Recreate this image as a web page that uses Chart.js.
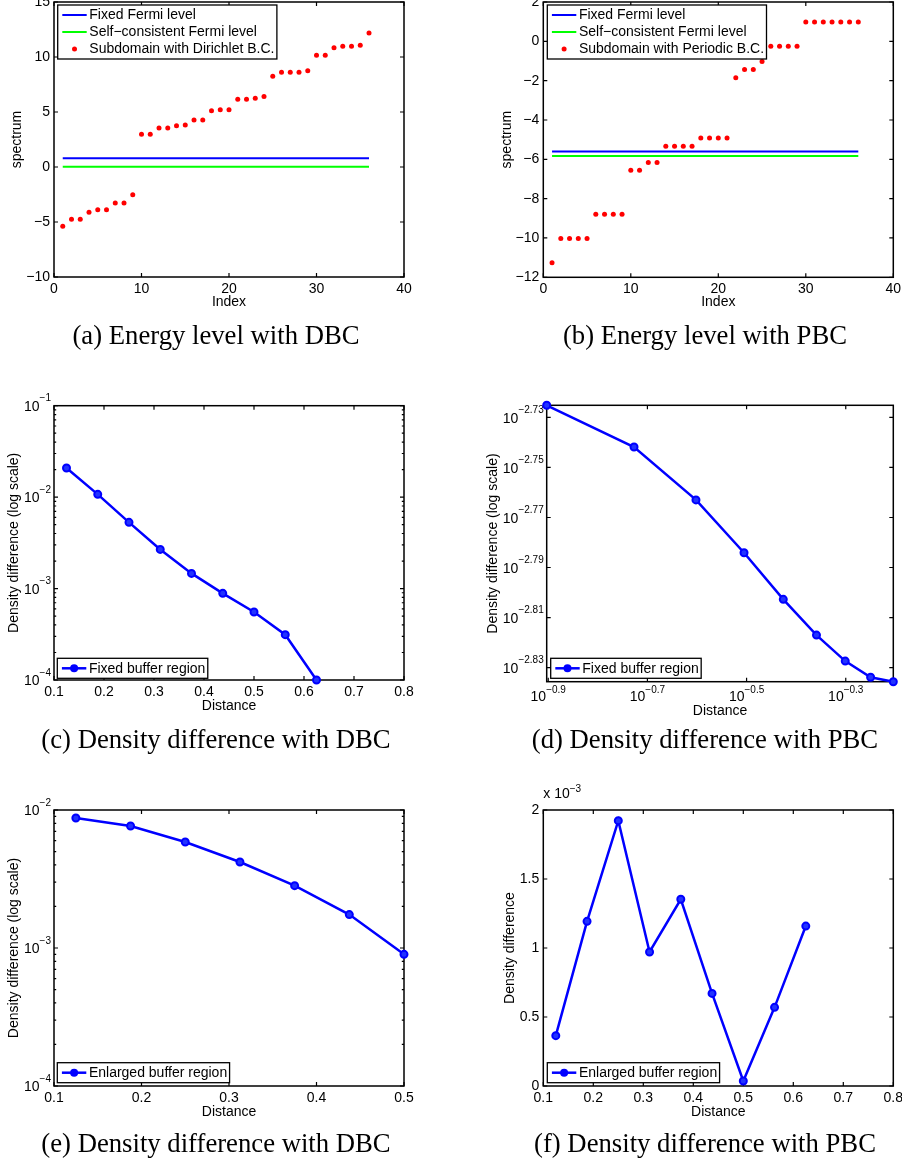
<html>
<head>
<meta charset="utf-8">
<title>Energy levels and density difference</title>
<style>
html, body { margin: 0; padding: 0; background: #fff; overflow: hidden; }
#page { position: relative; width: 902px; height: 1164px; overflow: hidden; }
.panel { position: absolute; }
.cap {
	position: absolute; width: 452px; text-align: center;
	font-family: "Liberation Serif", "Times New Roman", serif;
	font-size: 26.7px; line-height: 32px; color: #000; white-space: nowrap;
}
</style>
<script src="https://cdn.jsdelivr.net/npm/chart.js"></script>
<script>
// ---- data ----
const indexVals = [1,2,3,4,5,6,7,8,9,10,11,12,13,14,15,16,17,18,19,20,21,22,23,24,25,26,27,28,29,30,31,32,33,34,35,36];
const spectrumDBC = [-5.39,-4.76,-4.76,-4.12,-3.88,-3.88,-3.27,-3.27,-2.52,2.97,2.97,3.55,3.55,3.76,3.82,4.27,4.27,5.12,5.21,5.21,
	6.15,6.15,6.24,6.42,8.24,8.61,8.61,8.61,8.76,10.15,10.15,10.85,10.97,10.97,11.06,12.18];
const spectrumPBC = [-11.26,-10.03,-10.03,-10.03,-10.03,-8.8,-8.8,-8.8,-8.8,-6.56,-6.56,-6.16,-6.16,-5.33,-5.33,-5.33,-5.33,
	-4.91,-4.91,-4.91,-4.91,-1.85,-1.43,-1.43,-1.03,-0.25,-0.25,-0.25,-0.25,0.98,0.98,0.98,0.98,0.98,0.98,0.98];
// [DBC, PBC]
const fermiFixed = [0.79, -5.60];
const fermiSelf = [0.03, -5.83];

const distance = [0.125, 0.1875, 0.25, 0.3125, 0.375, 0.4375, 0.5, 0.5625, 0.625];
const diffDBCFixed = [0.0208, 0.01072, 0.0053, 0.00268, 0.001466, 0.000887, 0.000554, 0.000313, 0.0001];
const diffPBCFixed = [0.001883, 0.001812, 0.001726, 0.001644, 0.001575, 0.001524, 0.001488, 0.001466, 0.00146];
const diffDBCEnlarged = [0.00875, 0.00766, 0.00586, 0.0042, 0.00283, 0.001746, 0.0009];
const diffPBCEnlarged = [0.365, 1.193, 1.923, 0.971, 1.353, 0.671, 0.036, 0.570, 1.159]; // x 10^-3

// ---- tick labels ----
const ticksIndex = [0, 10, 20, 30, 40];
const ticksSpecDBC = [-10, -5, 0, 5, 10, 15];
const ticksSpecPBC = [-12, -10, -8, -6, -4, -2, 0, 2];
const ticksDist = [0.1, 0.2, 0.3, 0.4, 0.5, 0.6, 0.7, 0.8];
const ticksDistShort = [0.1, 0.2, 0.3, 0.4, 0.5];
const expDiffC = [-4, -3, -2, -1];
const expDiffE = [-4, -3, -2];
const expDiffDy = [-2.83, -2.81, -2.79, -2.77, -2.75, -2.73];
const expDistD = [-0.9, -0.7, -0.5, -0.3];
const ticksDiffF = [0, 0.5, 1, 1.5, 2];

const MAIN_FONT = '14px "Liberation Sans", Arial, sans-serif';
const SUP_FONT = '10px "Liberation Sans", Arial, sans-serif';
const BLUE = '#0000ff', GREEN = '#00ff00', RED = '#ff0000';

function pts(xs, ys) { return ys.map((v, i) => ({ x: xs[i], y: v })); }

function drawPow(ctx, e, x, y, align, lift) {
	const base = '10', ex = (e < 0 ? '\u2212' : '') + Math.abs(e);
	ctx.font = MAIN_FONT; const wb = ctx.measureText(base).width;
	ctx.font = SUP_FONT; const we = ctx.measureText(ex).width;
	const x0 = align === 'right' ? x - wb - we : x - (wb + we) / 2;
	ctx.textAlign = 'left'; ctx.textBaseline = 'middle'; ctx.fillStyle = '#000';
	ctx.font = MAIN_FONT; ctx.fillText(base, x0, y);
	ctx.font = SUP_FONT; ctx.fillText(ex, x0 + wb, y - lift);
}

// box, inward ticks, minor log ticks, power-of-ten labels
const mframe = {
	id: 'mframe',
	beforeDatasetsDraw(chart, args, o) {
		const { ctx, chartArea: a, scales: { x, y } } = chart;
		ctx.save();
		ctx.strokeStyle = '#000'; ctx.lineWidth = 1.5;
		ctx.strokeRect(a.left, a.top, a.right - a.left, a.bottom - a.top);
		ctx.lineWidth = 1.2;
		ctx.beginPath();
		x.ticks.forEach(t => {
			const p = x.getPixelForValue(t.value);
			ctx.moveTo(p, a.bottom); ctx.lineTo(p, a.bottom - 4);
			ctx.moveTo(p, a.top); ctx.lineTo(p, a.top + 4);
		});
		y.ticks.forEach(t => {
			const p = y.getPixelForValue(t.value);
			ctx.moveTo(a.left, p); ctx.lineTo(a.left + 4, p);
			ctx.moveTo(a.right, p); ctx.lineTo(a.right - 4, p);
		});
		if (o.yMinor) {
			for (let d = Math.floor(Math.log10(y.min)); d < Math.log10(y.max); d++) {
				for (let k = 2; k <= 9; k++) {
					const v = k * Math.pow(10, d);
					if (v <= y.min || v >= y.max) continue;
					const p = y.getPixelForValue(v);
					ctx.moveTo(a.left, p); ctx.lineTo(a.left + 2.2, p);
					ctx.moveTo(a.right, p); ctx.lineTo(a.right - 2.2, p);
				}
			}
		}
		ctx.stroke();
		if (o.yPow) o.yPow.forEach(e => drawPow(ctx, e, a.left - 3, y.getPixelForValue(Math.pow(10, e)) + 1.5, 'right', 8.5));
		if (o.xPow) o.xPow.forEach(e => drawPow(ctx, e, x.getPixelForValue(Math.pow(10, e)), a.bottom + 15, 'center', 6.7));
		if (o.note) {
			ctx.font = MAIN_FONT; ctx.textAlign = 'left'; ctx.textBaseline = 'middle'; ctx.fillStyle = '#000';
			const w = ctx.measureText('x 10').width;
			ctx.fillText('x 10', a.left, a.top - 16);
			ctx.font = SUP_FONT; ctx.fillText(o.note, a.left + w, a.top - 21);
		}
		ctx.restore();
	}
};

// MATLAB style legend box
const mlegend = {
	id: 'mlegend',
	afterDatasetsDraw(chart, args, o) {
		if (!o.items) return;
		const { ctx, chartArea: a } = chart;
		ctx.save();
		ctx.font = MAIN_FONT;
		const tw = Math.max(...o.items.map(it => ctx.measureText(it.text).width));
		const w = 32 + tw + 2, h = 20 + 17 * (o.items.length - 1);
		const left = a.left + o.dx;
		const top = o.dyTop !== undefined ? a.top + o.dyTop : a.bottom - o.dyBottom - h;
		ctx.fillStyle = '#fff'; ctx.fillRect(left, top, w, h);
		ctx.strokeStyle = '#000'; ctx.lineWidth = 1.3; ctx.strokeRect(left, top, w, h);
		o.items.forEach((it, i) => {
			const cy = top + 10 + 17 * i, cx = left + 16.8;
			if (it.kind !== 'dot') {
				ctx.strokeStyle = it.color; ctx.lineWidth = it.kind === 'marker' ? 2.5 : 2;
				ctx.beginPath(); ctx.moveTo(left + 4.6, cy); ctx.lineTo(left + 29, cy); ctx.stroke();
			}
			if (it.kind === 'dot') {
				ctx.fillStyle = it.color; ctx.beginPath(); ctx.arc(cx, cy, 2.5, 0, Math.PI * 2); ctx.fill();
			}
			if (it.kind === 'marker') {
				ctx.fillStyle = it.color; ctx.beginPath(); ctx.arc(cx, cy, 4, 0, Math.PI * 2); ctx.fill();
			}
			ctx.fillStyle = '#000'; ctx.textAlign = 'left'; ctx.textBaseline = 'middle';
			ctx.fillText(it.text, left + 31.6, cy + 0.5);
		});
		ctx.restore();
	}
};

function axis(opt, box, area, horiz) {
	return {
		type: opt.type || 'linear',
		position: horiz ? 'bottom' : 'left',
		min: opt.min, max: opt.max,
		afterBuildTicks: s => { s.ticks = opt.ticks.map(v => ({ value: v })); },
		afterFit: s => {
			if (horiz) { s.height = box.y + box.h - area.B; s.paddingLeft = 0; s.paddingRight = 0; }
			else { s.width = area.L - box.x; s.paddingTop = 0; s.paddingBottom = 0; }
		},
		grid: { display: false, drawTicks: false },
		border: { display: false },
		ticks: {
			display: !opt.pow, autoSkip: false, maxRotation: 0, padding: horiz ? 3.5 : 4, color: '#000',
			callback: v => String(v).replace('-', '\u2212')
		},
		title: {
			display: true, text: opt.title, color: '#000',
			padding: horiz ? { top: 0, bottom: box.y + box.h - opt.at - 8.4 } : { top: opt.at - box.x - 8.4, bottom: 0 }
		}
	};
}

function makePanel(id, box, area, xo, yo, datasets, frame, legend) {
	const cv = document.getElementById(id);
	const div = cv.parentNode;
	div.style.left = box.x + 'px'; div.style.top = box.y + 'px';
	cv.width = box.w; cv.height = box.h;
	new Chart(cv, {
		type: 'scatter',
		data: { datasets: datasets },
		options: {
			responsive: false,
			animation: false,
			layout: { autoPadding: false, padding: { left: 0, top: area.T - box.y, right: box.x + box.w - area.R, bottom: 0 } },
			scales: { x: axis(xo, box, area, true), y: axis(yo, box, area, false) },
			plugins: { legend: { display: false }, tooltip: { enabled: false }, mframe: frame, mlegend: legend }
		},
		plugins: [mframe, mlegend]
	});
}

function hline(xs, v, color) {
	return { data: [{ x: xs[0], y: v }, { x: xs[xs.length - 1], y: v }], showLine: true, borderColor: color,
		borderWidth: 2, pointRadius: 0, clip: false };
}
function dots(xs, ys) {
	return { data: pts(xs, ys), pointRadius: 2.5, pointBorderWidth: 0, pointBackgroundColor: RED, showLine: false, clip: false };
}
function curve(xs, ys) {
	return { data: pts(xs, ys), showLine: true, borderColor: BLUE, borderWidth: 2.5, tension: 0,
		pointRadius: 3.5, pointBorderWidth: 2, pointBorderColor: BLUE, pointBackgroundColor: '#2233ff', clip: false };
}

function load() {
	Chart.defaults.font.family = '"Liberation Sans", Arial, Helvetica, sans-serif';
	Chart.defaults.font.size = 14;
	Chart.defaults.color = '#000';

	const L = { x: 0, w: 450 }, R = { x: 450, w: 452 };
	const rows = [{ y: -20, h: 340 }, { y: 370, h: 354 }, { y: 770, h: 358 }];

	// (a)
	makePanel('ca', { ...L, ...rows[0] }, { L: 54, R: 404, T: 2, B: 277 },
		{ min: 0, max: 40, ticks: ticksIndex, title: 'Index', at: 302 },
		{ min: -10, max: 15, ticks: ticksSpecDBC, title: 'spectrum', at: 17 },
		[hline(indexVals, fermiFixed[0], BLUE), hline(indexVals, fermiSelf[0], GREEN), dots(indexVals, spectrumDBC)],
		{}, { dx: 3.7, dyTop: 3, items: [
			{ text: 'Fixed Fermi level', color: BLUE, kind: 'line' },
			{ text: 'Self\u2212consistent Fermi level', color: GREEN, kind: 'line' },
			{ text: 'Subdomain with Dirichlet B.C.', color: RED, kind: 'dot' }] });

	// (b)
	makePanel('cb', { ...R, ...rows[0] }, { L: 543.3, R: 893.3, T: 2, B: 277.3 },
		{ min: 0, max: 40, ticks: ticksIndex, title: 'Index', at: 302 },
		{ min: -12, max: 2, ticks: ticksSpecPBC, title: 'spectrum', at: 506.7 },
		[hline(indexVals, fermiFixed[1], BLUE), hline(indexVals, fermiSelf[1], GREEN), dots(indexVals, spectrumPBC)],
		{}, { dx: 4, dyTop: 3, items: [
			{ text: 'Fixed Fermi level', color: BLUE, kind: 'line' },
			{ text: 'Self\u2212consistent Fermi level', color: GREEN, kind: 'line' },
			{ text: 'Subdomain with Periodic B.C.', color: RED, kind: 'dot' }] });

	// (c)
	makePanel('cc', { ...L, ...rows[1] }, { L: 54, R: 404, T: 405.7, B: 680 },
		{ min: 0.1, max: 0.8, ticks: ticksDist, title: 'Distance', at: 706 },
		{ type: 'logarithmic', min: 1e-4, max: 1e-1, ticks: expDiffC.map(e => Math.pow(10, e)), pow: true,
			title: 'Density difference (log scale)', at: 14 },
		[curve(distance, diffDBCFixed)],
		{ yMinor: true, yPow: expDiffC },
		{ dx: 3.3, dyBottom: 1.7, items: [{ text: 'Fixed buffer region', color: BLUE, kind: 'marker' }] });

	// (d)
	makePanel('cd', { ...R, ...rows[1] }, { L: 546.7, R: 893.3, T: 405.3, B: 681.7 },
		{ type: 'logarithmic', min: Math.min(...distance), max: Math.max(...distance),
			ticks: expDistD.map(e => Math.pow(10, e)), pow: true, title: 'Distance', at: 711 },
		{ type: 'logarithmic', min: Math.min(...diffPBCFixed), max: Math.max(...diffPBCFixed),
			ticks: expDiffDy.map(e => Math.pow(10, e)), pow: true, title: 'Density difference (log scale)', at: 493.3 },
		[curve(distance, diffPBCFixed)],
		{ yPow: expDiffDy, xPow: expDistD },
		{ dx: 4, dyBottom: 3.4, items: [{ text: 'Fixed buffer region', color: BLUE, kind: 'marker' }] });

	// (e)
	makePanel('ce', { ...L, ...rows[2] }, { L: 54, R: 404, T: 810, B: 1086 },
		{ min: 0.1, max: 0.5, ticks: ticksDistShort, title: 'Distance', at: 1111.7 },
		{ type: 'logarithmic', min: 1e-4, max: 1e-2, ticks: expDiffE.map(e => Math.pow(10, e)), pow: true,
			title: 'Density difference (log scale)', at: 14 },
		[curve(distance.slice(0, diffDBCEnlarged.length), diffDBCEnlarged)],
		{ yMinor: true, yPow: expDiffE },
		{ dx: 3.3, dyBottom: 3.3, items: [{ text: 'Enlarged buffer region', color: BLUE, kind: 'marker' }] });

	// (f)
	makePanel('cf', { ...R, ...rows[2] }, { L: 543.3, R: 893.3, T: 810, B: 1086 },
		{ min: 0.1, max: 0.8, ticks: ticksDist, title: 'Distance', at: 1111.7 },
		{ min: 0, max: 2, ticks: ticksDiffF, title: 'Density difference', at: 510 },
		[curve(distance, diffPBCEnlarged)],
		{ note: '\u22123' },
		{ dx: 4, dyBottom: 3.3, items: [{ text: 'Enlarged buffer region', color: BLUE, kind: 'marker' }] });
}
</script>
</head>
<body onload="load();">
<div id="page">
	<div class="panel"><canvas id="ca"></canvas></div>
	<div class="panel"><canvas id="cb"></canvas></div>
	<div class="panel"><canvas id="cc"></canvas></div>
	<div class="panel"><canvas id="cd"></canvas></div>
	<div class="panel"><canvas id="ce"></canvas></div>
	<div class="panel"><canvas id="cf"></canvas></div>

	<div class="cap" style="left:-10px; top:319px">(a) Energy level with DBC</div>
	<div class="cap" style="left:479px; top:319px">(b) Energy level with PBC</div>
	<div class="cap" style="left:-10px; top:723px">(c) Density difference with DBC</div>
	<div class="cap" style="left:479px; top:723px">(d) Density difference with PBC</div>
	<div class="cap" style="left:-10px; top:1127px">(e) Density difference with DBC</div>
	<div class="cap" style="left:479px; top:1127px">(f) Density difference with PBC</div>
</div>
</body>
</html>
